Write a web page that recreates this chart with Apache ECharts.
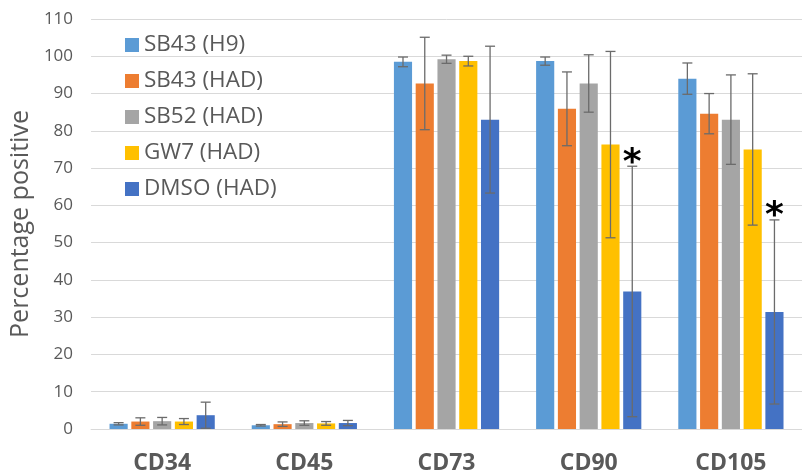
<!DOCTYPE html>
<html><head><meta charset="utf-8">
<script src="https://cdn.jsdelivr.net/npm/echarts@6/dist/echarts.min.js"></script>
<style>html,body{margin:0;padding:0;background:#fff}#c{width:802px;height:476px}</style>
</head><body><div id="c"></div>
<script>
const categories = ['CD34','CD45','CD73','CD90','CD105'];
const seriesNames = ['SB43 (H9)','SB43 (HAD)','SB52 (HAD)','GW7 (HAD)','DMSO (HAD)'];
const colors = ['#5B9BD5','#ED7D31','#A5A5A5','#FFC000','#4472C4'];
const sb43h9 = [1.4, 1.0, 98.5, 98.7, 94.0];
const sb43h9Err = [0.3, 0.2, 1.3, 1.1, 4.2];
const sb43had = [2.0, 1.3, 92.7, 85.9, 84.6];
const sb43hadErr = [1.0, 0.6, 12.4, 9.9, 5.4];
const sb52had = [2.1, 1.6, 99.2, 92.7, 83.0];
const sb52hadErr = [1.0, 0.6, 1.1, 7.7, 12.0];
const gw7had = [2.0, 1.5, 98.7, 76.3, 75.0];
const gw7hadErr = [0.8, 0.5, 1.3, 25.0, 20.3];
const dmsohad = [3.7, 1.6, 83.0, 36.9, 31.4];
const dmsohadErr = [3.5, 0.7, 19.7, 33.6, 24.7];
const significance = ['', '', '', '*', '*'];
const yTicks = {min: 0, max: 110, interval: 10};

const values = [sb43h9, sb43had, sb52had, gw7had, dmsohad];
const errors = [sb43h9Err, sb43hadErr, sb52hadErr, gw7hadErr, dmsohadErr];
const CAT_GAP = 0.26, BAR_GAP = 0.2, N = values.length;

const series = [];
values.forEach((vals, i) => {
  series.push({
    name: seriesNames[i], type: 'bar', data: vals,
    itemStyle: {color: colors[i]},
    barCategoryGap: (CAT_GAP*100)+'%', barGap: (BAR_GAP*100)+'%',
    z: 2
  });
});
values.forEach((vals, i) => {
  const data = vals.map((v, j) => [j, v, errors[i][j], i === N-1 ? significance[j] : '']);
  series.push({
    type: 'custom', name: seriesNames[i] + ' err', data: data, z: 5,
    silent: true,
    renderItem: function (params, api) {
      const x = api.value(0), v = api.value(1), e = api.value(2);
      const sig = data[params.dataIndex][3];
      const band = api.size([1, 0])[0];
      const remain = band * (1 - CAT_GAP);
      const bw = remain / (N + (N - 1) * BAR_GAP);
      const off = -remain / 2 + i * bw * (1 + BAR_GAP) + bw / 2;
      const hi = api.coord([x, v + e]);
      const lo = api.coord([x, Math.max(v - e, 0)]);
      const cx = hi[0] + off;
      const cap = 5;
      const st = {stroke: '#6b6b6b', lineWidth: 1.3};
      const children = [
        {type: 'line', shape: {x1: cx, y1: hi[1], x2: cx, y2: lo[1]}, style: st},
        {type: 'line', shape: {x1: cx - cap, y1: hi[1], x2: cx + cap, y2: hi[1]}, style: st},
        {type: 'line', shape: {x1: cx - cap, y1: lo[1], x2: cx + cap, y2: lo[1]}, style: st}
      ];
      if (sig) {
        children.push({type: 'text', style: {text: sig, x: cx, y: hi[1] + 15, align: 'center', verticalAlign: 'bottom',
          font: 'bold 36px "DejaVu Sans", sans-serif', fill: '#000'}});
      }
      return {type: 'group', children: children};
    }
  });
});

const chart = echarts.init(document.getElementById('c'), null, {renderer: 'canvas'});
chart.setOption({
  animation: false,
  backgroundColor: '#fff',
  textStyle: {fontFamily: '"Open Sans", "Liberation Sans", sans-serif'},
  grid: {left: 88, right: -10, top: 19, bottom: 47, containLabel: false},
  legend: {
    data: seriesNames, orient: 'vertical', left: 120, top: 27,
    itemWidth: 14, itemHeight: 14, itemGap: 10, icon: 'rect',
    textStyle: {fontSize: 22.5, color: '#595959', lineHeight: 26, fontFamily: '"Open Sans", sans-serif'}
  },
  xAxis: {
    type: 'category', data: categories,
    axisLine: {show: true, lineStyle: {color: '#d9d9d9'}},
    axisTick: {show: false},
    axisLabel: {fontSize: 23, fontWeight: 'bold', color: '#595959', margin: 23, fontFamily: '"Open Sans", sans-serif'}
  },
  yAxis: {
    type: 'value', min: yTicks.min, max: yTicks.max, interval: yTicks.interval,
    name: 'Percentage positive', nameLocation: 'middle', nameGap: 58,
    nameTextStyle: {fontSize: 25, color: '#595959'},
    axisLine: {show: false}, axisTick: {show: false},
    axisLabel: {fontSize: 17, color: '#595959', margin: 18},
    splitLine: {lineStyle: {color: '#d9d9d9', width: 1}}
  },
  series: series
});
</script></body></html>
